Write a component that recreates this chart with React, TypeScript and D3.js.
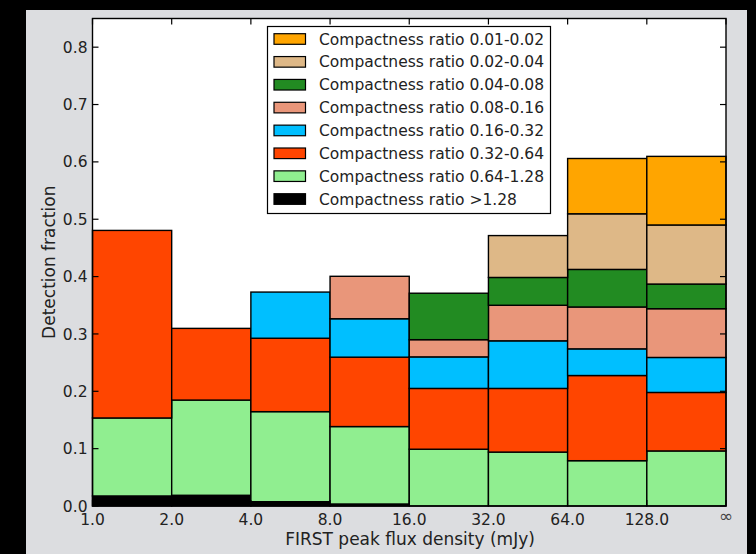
import React from "react";
import * as d3 from "d3";

const binLabels = ["1.0", "2.0", "4.0", "8.0", "16.0", "32.0", "64.0", "128.0", "\u221E"];
const bins = ["1-2", "2-4", "4-8", "8-16", "16-32", "32-64", "64-128", "128-inf"];

// series, bottom to top (segment heights per bin)
const ratioGt128 = [0.0175, 0.0187, 0.0075, 0.0035, 0, 0, 0, 0];
const ratio064 = [0.136, 0.166, 0.157, 0.135, 0.099, 0.094, 0.079, 0.096];
const ratio032 = [0.327, 0.125, 0.128, 0.121, 0.106, 0.111, 0.1485, 0.102];
const ratio016 = [0, 0, 0.0805, 0.067, 0.055, 0.083, 0.0465, 0.061];
const ratio008 = [0, 0, 0, 0.074, 0.03, 0.062, 0.073, 0.085];
const ratio004 = [0, 0, 0, 0, 0.081, 0.0485, 0.0655, 0.043];
const ratio002 = [0, 0, 0, 0, 0, 0.073, 0.097, 0.103];
const ratio001 = [0, 0, 0, 0, 0, 0, 0.0964, 0.1196];

const seriesKeys = ["gt128", "r064", "r032", "r016", "r008", "r004", "r002", "r001"];
const seriesValues = [ratioGt128, ratio064, ratio032, ratio016, ratio008, ratio004, ratio002, ratio001];
const seriesLabels = [
  "Compactness ratio >1.28",
  "Compactness ratio 0.64-1.28",
  "Compactness ratio 0.32-0.64",
  "Compactness ratio 0.16-0.32",
  "Compactness ratio 0.08-0.16",
  "Compactness ratio 0.04-0.08",
  "Compactness ratio 0.02-0.04",
  "Compactness ratio 0.01-0.02",
];
const seriesColors = ["#000000", "#90EE90", "#FF4500", "#00BFFF", "#E9967A", "#228B22", "#DEB887", "#FFA500"];

const yTicks = [0, 0.1, 0.2, 0.3, 0.4, 0.5, 0.6, 0.7, 0.8];

const W = 756;
const H = 554;
const L = 92.5, R = 726, T = 18.5, B = 506;
const FONT = "DejaVu Sans, sans-serif";

export default function App() {
  const x = d3.scaleLinear().domain([0, bins.length]).range([L, R]);
  const y = d3.scaleLinear().domain([0, 0.85]).range([B, T]);
  const table = bins.map((b, i) => {
    const row: any = { bin: b, idx: i };
    seriesKeys.forEach((k, s) => (row[k] = seriesValues[s][i]));
    return row;
  });
  const stacked = d3.stack().keys(seriesKeys)(table);
  const fmt = d3.format(".1f");
  const tickLen = 6;

  const legendItems = seriesLabels.map((l, i) => ({ label: l, color: seriesColors[i] })).reverse();

  return (
    <svg width={W} height={H} style={{ position: "absolute", left: 0, top: 0 }} fontFamily={FONT}>
      <rect x={0} y={0} width={W} height={H} fill="#000" />
      <rect x={26} y={10} width={721} height={H - 10} fill="#dcdde0" />
      <rect x={L} y={T} width={R - L} height={B - T} fill="#fff" />
      {stacked.map((layer, s) => (
        <g key={seriesKeys[s]}>
          {layer.map((d, i) =>
            d[1] - d[0] > 0 ? (
              <rect
                key={i}
                x={x(i)}
                y={y(d[1])}
                width={x(i + 1) - x(i)}
                height={y(d[0]) - y(d[1])}
                fill={seriesColors[s]}
                stroke="#000"
                strokeWidth={1.4}
              />
            ) : null
          )}
        </g>
      ))}
      {/* axes frame */}
      <rect x={L} y={T} width={R - L} height={B - T} fill="none" stroke="#000" strokeWidth={1.4} />
      {/* y ticks */}
      {yTicks.map((t) => (
        <g key={t}>
          <line x1={L} x2={L + tickLen} y1={y(t)} y2={y(t)} stroke="#000" strokeWidth={1.2} />
          <line x1={R} x2={R - tickLen} y1={y(t)} y2={y(t)} stroke="#000" strokeWidth={1.2} />
          <text x={L - 5} y={y(t)} dy="0.36em" textAnchor="end" fontSize={15.5} fill="#222">
            {fmt(t)}
          </text>
        </g>
      ))}
      {/* x ticks */}
      {binLabels.map((lab, i) => (
        <g key={lab}>
          <line x1={x(i)} x2={x(i)} y1={B} y2={B - tickLen} stroke="#000" strokeWidth={1.2} />
          <line x1={x(i)} x2={x(i)} y1={T} y2={T + tickLen} stroke="#000" strokeWidth={1.2} />
          {i < binLabels.length - 1 ? (
            <text x={x(i)} y={525} textAnchor="middle" fontSize={15.5} fill="#222">
              {lab}
            </text>
          ) : (
            <text x={x(i)} y={522} textAnchor="middle" fontSize={17} fill="#444">
              {lab}
            </text>
          )}
        </g>
      ))}
      <text x={410} y={545} textAnchor="middle" fontSize={17} fill="#222">
        FIRST peak flux density (mJy)
      </text>
      <text
        transform={`translate(55,${(T + B) / 2}) rotate(-90)`}
        textAnchor="middle"
        fontSize={17}
        fill="#222"
      >
        Detection fraction
      </text>
      {/* legend */}
      <g>
        <rect x={267.5} y={26.5} width={283} height={187} fill="#fff" stroke="#000" strokeWidth={1.2} />
        {legendItems.map((it, i) => {
          const cy = 39 + i * 22.86;
          return (
            <g key={it.label}>
              <rect x={274} y={cy - 5.3} width={31.5} height={10.6} fill={it.color} stroke="#000" strokeWidth={1.2} />
              <text x={319} y={cy} dy="0.36em" fontSize={15.5} fill="#222">
                {it.label}
              </text>
            </g>
          );
        })}
      </g>
    </svg>
  );
}
